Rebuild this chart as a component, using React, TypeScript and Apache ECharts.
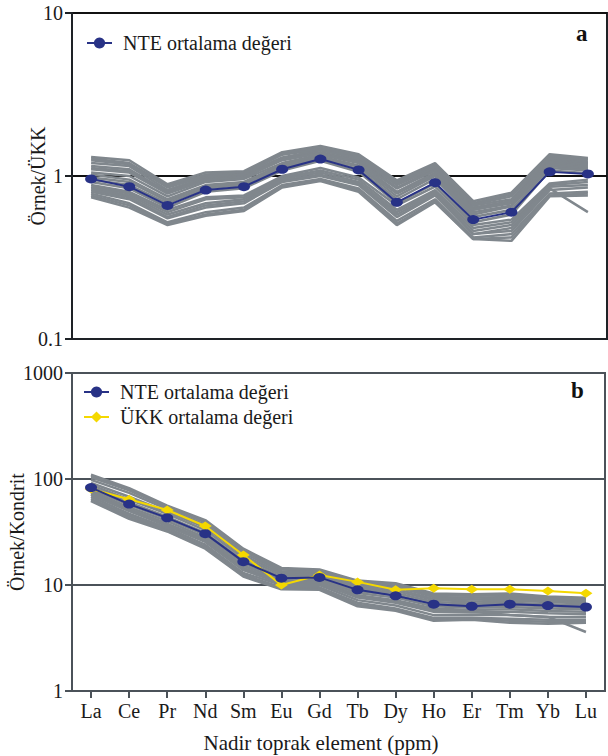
import React, { useEffect, useRef } from "react";
import * as echarts from "echarts";

const elements = ["La", "Ce", "Pr", "Nd", "Sm", "Eu", "Gd", "Tb", "Dy", "Ho", "Er", "Tm", "Yb", "Lu"];

// Panel a: sample / upper continental crust (ÜKK)
const nteMeanUcc = [0.96, 0.86, 0.66, 0.82, 0.86, 1.10, 1.27, 1.09, 0.69, 0.91, 0.54, 0.60, 1.06, 1.03];
const samplesUcc = [
  [1.31, 1.25, 0.89, 1.05, 1.07, 1.40, 1.53, 1.36, 0.94, 1.20, 0.70, 0.79, 1.36, 1.29],
  [1.28, 1.20, 0.87, 1.02, 1.05, 1.37, 1.49, 1.33, 0.92, 1.17, 0.68, 0.77, 1.33, 1.27],
  [1.25, 1.18, 0.85, 1.00, 1.03, 1.35, 1.46, 1.30, 0.90, 1.15, 0.67, 0.75, 1.30, 1.25],
  [1.20, 1.15, 0.82, 0.98, 1.02, 1.30, 1.44, 1.28, 0.88, 1.12, 0.66, 0.72, 1.28, 1.22],
  [1.15, 1.10, 0.80, 0.96, 1.00, 1.28, 1.40, 1.25, 0.85, 1.10, 0.64, 0.70, 1.25, 1.20],
  [1.12, 1.07, 0.79, 0.95, 0.99, 1.26, 1.39, 1.23, 0.84, 1.09, 0.63, 0.70, 1.23, 1.18],
  [1.10, 1.05, 0.78, 0.94, 0.98, 1.25, 1.38, 1.22, 0.84, 1.08, 0.62, 0.70, 1.22, 1.16],
  [1.05, 1.00, 0.75, 0.92, 0.96, 1.20, 1.35, 1.20, 0.80, 1.05, 0.62, 0.68, 1.20, 1.14],
  [1.02, 0.95, 0.72, 0.88, 0.92, 1.18, 1.32, 1.16, 0.78, 1.02, 0.60, 0.66, 1.18, 1.12],
  [0.98, 0.92, 0.70, 0.86, 0.90, 1.15, 1.30, 1.14, 0.75, 1.00, 0.58, 0.65, 1.15, 1.10],
  [0.95, 0.88, 0.68, 0.84, 0.88, 1.12, 1.28, 1.10, 0.72, 0.96, 0.56, 0.62, 1.12, 1.08],
  [0.92, 0.84, 0.64, 0.80, 0.84, 1.08, 1.24, 1.06, 0.68, 0.90, 0.52, 0.58, 1.08, 1.04],
  [0.88, 0.80, 0.62, 0.74, 0.76, 1.00, 1.12, 0.98, 0.66, 0.86, 0.50, 0.54, 0.90, 0.95],
  [0.86, 0.78, 0.60, 0.72, 0.74, 0.98, 1.08, 0.95, 0.62, 0.82, 0.48, 0.52, 0.88, 0.92],
  [0.84, 0.76, 0.58, 0.68, 0.72, 0.96, 1.05, 0.92, 0.60, 0.80, 0.46, 0.50, 0.86, 0.88],
  [0.82, 0.74, 0.56, 0.66, 0.70, 0.94, 1.02, 0.90, 0.58, 0.78, 0.44, 0.48, 0.84, 0.60],
  [0.80, 0.72, 0.55, 0.64, 0.68, 0.92, 1.00, 0.88, 0.56, 0.76, 0.44, 0.46, 0.82, 0.85],
  [0.78, 0.68, 0.52, 0.60, 0.64, 0.88, 0.96, 0.84, 0.53, 0.72, 0.42, 0.44, 0.78, 0.80],
  [0.76, 0.66, 0.51, 0.58, 0.62, 0.86, 0.94, 0.82, 0.51, 0.70, 0.41, 0.42, 0.76, 0.78],
  [0.74, 0.64, 0.50, 0.57, 0.61, 0.85, 0.93, 0.80, 0.50, 0.69, 0.41, 0.40, 0.75, 0.76],
];

// Panel b: sample / chondrite
const nteMeanChondrite = [83, 58, 43, 30.5, 16.6, 11.6, 11.8, 9.0, 7.9, 6.6, 6.3, 6.6, 6.4, 6.2];
const uccChondrite = [80.5, 64.5, 51, 36, 19.2, 10.0, 12.4, 10.7, 9.0, 9.3, 9.1, 9.1, 8.8, 8.35];
const samplesChondrite = [
  [110, 82, 56, 41, 22, 14.5, 14, 11, 10.4, 8.3, 8.2, 8.3, 7.8, 7.6],
  [107, 80, 55, 40, 21.5, 14.2, 13.8, 10.8, 10.2, 8.1, 8.0, 8.1, 7.6, 7.4],
  [104, 78, 54, 39, 21, 14, 13.6, 10.6, 10, 8, 7.9, 8, 7.5, 7.3],
  [98, 74, 52, 37, 20, 13.5, 13.2, 10.2, 9.6, 7.7, 7.6, 7.7, 7.3, 7.1],
  [92, 68, 49, 35, 19, 13, 12.8, 9.8, 9.2, 7.4, 7.3, 7.4, 7.1, 6.9],
  [88, 64, 47, 33, 18, 12.5, 12.4, 9.5, 8.8, 7.2, 7.0, 7.1, 6.9, 6.7],
  [84, 60, 44, 31, 17, 12, 12, 9.2, 8.4, 6.9, 6.7, 6.8, 6.6, 6.4],
  [80, 57, 42, 29.5, 16, 11.6, 11.6, 8.8, 8.0, 6.6, 6.4, 6.5, 6.3, 6.1],
  [77, 54, 40, 28, 15.2, 11.2, 11.2, 8.4, 7.6, 6.3, 6.1, 6.2, 6.0, 5.9],
  [74, 52, 38, 27, 14.5, 10.8, 10.8, 8.0, 7.2, 6.0, 5.8, 5.9, 5.7, 5.6],
  [72, 50, 37, 26, 14, 10.5, 10.4, 7.8, 7.0, 5.8, 5.6, 5.2, 5.0, 3.6],
  [71, 50, 36, 25.5, 13.8, 10.4, 10.4, 7.6, 6.8, 5.6, 5.5, 5.6, 5.4, 5.3],
  [68, 47, 34.5, 24, 13, 10, 10, 7.2, 6.4, 5.2, 5.2, 5.2, 5.0, 5.0],
  [65, 45, 33, 23, 12.5, 9.5, 9.5, 6.8, 6.0, 4.9, 4.9, 4.8, 4.7, 4.7],
  [63, 43, 32.5, 22.5, 12.2, 9.3, 9.2, 6.5, 5.8, 4.7, 4.8, 4.6, 4.5, 4.5],
  [62, 42, 32, 22, 12, 9.1, 9.0, 6.3, 5.7, 4.6, 4.7, 4.4, 4.3, 4.4],
];

const NTE = "NTE ortalama değeri";
const UKK = "ÜKK ortalama değeri";
const X_TITLE = "Nadir toprak element (ppm)";
const FONT = "Liberation Serif";
const GRAY = "#80878d";
const NAVY = "#283286";
const YELLOW = "#f4d800";
const DARK_A = "#1e2226";
const DARK_B = "#4b5259";
const TEXT = "#1a1a1a";

export default function App() {
  const ref = useRef<HTMLDivElement>(null);
  useEffect(() => {
    if (!ref.current) return;
    const chart = echarts.init(ref.current, null, { renderer: "svg" });
    const grayA = samplesUcc.map((s, i) => ({
      name: "a" + i,
      type: "line",
      xAxisIndex: 0,
      yAxisIndex: 0,
      data: s,
      symbol: "none",
      silent: true,
      lineStyle: { color: GRAY, width: 2.5 },
      z: 1,
    }));
    const grayB = samplesChondrite.map((s, i) => ({
      name: "b" + i,
      type: "line",
      xAxisIndex: 1,
      yAxisIndex: 1,
      data: s,
      symbol: "none",
      silent: true,
      lineStyle: { color: GRAY, width: 2.5 },
      z: 1,
    }));
    const legendText = { fontFamily: FONT, fontSize: 20, color: TEXT, lineHeight: 22, padding: [0, 0, 0, 6] };
    const option: any = {
      animation: false,
      textStyle: { fontFamily: FONT },
      grid: [
        { left: 72, top: 13, right: 1, height: 326, show: true, borderColor: DARK_A, borderWidth: 2, backgroundColor: "transparent", outerBoundsMode: "none", containLabel: false },
        { left: 72, top: 373, right: 3, height: 318, show: true, borderColor: DARK_B, borderWidth: 2, backgroundColor: "transparent", outerBoundsMode: "none", containLabel: false },
      ],
      xAxis: [
        {
          type: "category",
          gridIndex: 0,
          data: elements,
          boundaryGap: true,
          axisLine: { lineStyle: { color: DARK_A, width: 2 } },
          axisTick: { show: false },
          axisLabel: { show: false },
        },
        {
          type: "category",
          gridIndex: 1,
          data: elements,
          boundaryGap: true,
          axisLine: { lineStyle: { color: DARK_B, width: 2 } },
          axisTick: { show: true, alignWithLabel: true, length: 7, lineStyle: { color: DARK_B, width: 2 } },
          axisLabel: { fontFamily: FONT, fontSize: 20, color: TEXT, margin: 10, interval: 0 },
        },
      ],
      yAxis: [
        {
          type: "log",
          logBase: 10,
          gridIndex: 0,
          min: 0.1,
          max: 10,
          axisLine: { show: true, lineStyle: { color: DARK_A, width: 2 } },
          axisTick: { show: true, length: 7, lineStyle: { color: DARK_A, width: 2 } },
          axisLabel: { fontFamily: FONT, fontSize: 20, color: TEXT, margin: 9, formatter: (v: number) => String(v) },
          splitLine: { show: true, lineStyle: { color: "#111", width: 2 } },
          minorTick: { show: false },
          name: "Örnek/ÜKK",
          nameLocation: "middle",
          nameGap: 24,
          nameMoveOverlap: false,
          nameTextStyle: { fontFamily: FONT, fontSize: 20, color: TEXT },
        },
        {
          type: "log",
          logBase: 10,
          gridIndex: 1,
          min: 1,
          max: 1000,
          axisLine: { show: true, lineStyle: { color: DARK_B, width: 2 } },
          axisTick: { show: true, length: 7, lineStyle: { color: DARK_B, width: 2 } },
          axisLabel: { fontFamily: FONT, fontSize: 20, color: TEXT, margin: 9, formatter: (v: number) => String(v) },
          splitLine: { show: true, lineStyle: { color: DARK_B, width: 2 } },
          minorTick: { show: false },
          name: "Örnek/Kondrit",
          nameLocation: "middle",
          nameGap: 45,
          nameMoveOverlap: false,
          nameTextStyle: { fontFamily: FONT, fontSize: 20, color: TEXT },
        },
      ],
      legend: [
        {
          data: [NTE],
          left: 86,
          top: 32,
          padding: 0,
          itemWidth: 25,
          itemHeight: 14,
          textStyle: legendText,
          selectedMode: false,
        },
        {
          data: [NTE, UKK],
          orient: "vertical",
          left: 83,
          top: 381,
          padding: 0,
          itemWidth: 25,
          itemHeight: 14,
          itemGap: 3,
          textStyle: legendText,
          selectedMode: false,
        },
      ],
      graphic: [
        { type: "text", left: 576, top: 22, style: { text: "a", fontFamily: FONT, fontSize: 23, fontWeight: "bold", fill: "#111" } },
        { type: "text", left: 571, top: 379, style: { text: "b", fontFamily: FONT, fontSize: 23, fontWeight: "bold", fill: "#111" } },
        {
          type: "text",
          x: 321,
          y: 743,
          style: { text: X_TITLE, fontFamily: FONT, fontSize: 21, fill: TEXT, align: "center", verticalAlign: "middle" },
        },
      ],
      series: [
        ...grayA,
        {
          name: NTE,
          type: "line",
          xAxisIndex: 0,
          yAxisIndex: 0,
          data: nteMeanUcc,
          symbol: "circle",
          symbolSize: [12, 9],
          itemStyle: { color: NAVY },
          lineStyle: { color: NAVY, width: 2 },
          z: 5,
        },
        ...grayB,
        {
          name: UKK,
          type: "line",
          xAxisIndex: 1,
          yAxisIndex: 1,
          data: uccChondrite,
          symbol: "diamond",
          symbolSize: [13, 9],
          itemStyle: { color: YELLOW },
          lineStyle: { color: YELLOW, width: 2 },
          z: 4,
        },
        {
          name: NTE,
          type: "line",
          xAxisIndex: 1,
          yAxisIndex: 1,
          data: nteMeanChondrite,
          symbol: "circle",
          symbolSize: [12, 9],
          itemStyle: { color: NAVY },
          lineStyle: { color: NAVY, width: 2 },
          z: 5,
        },
      ],
    };
    chart.setOption(option);
    return () => chart.dispose();
  }, []);
  return (
    <div
      ref={ref}
      style={{ position: "absolute", left: 0, top: 0, width: 608, height: 756, background: "#fff" }}
    />
  );
}
